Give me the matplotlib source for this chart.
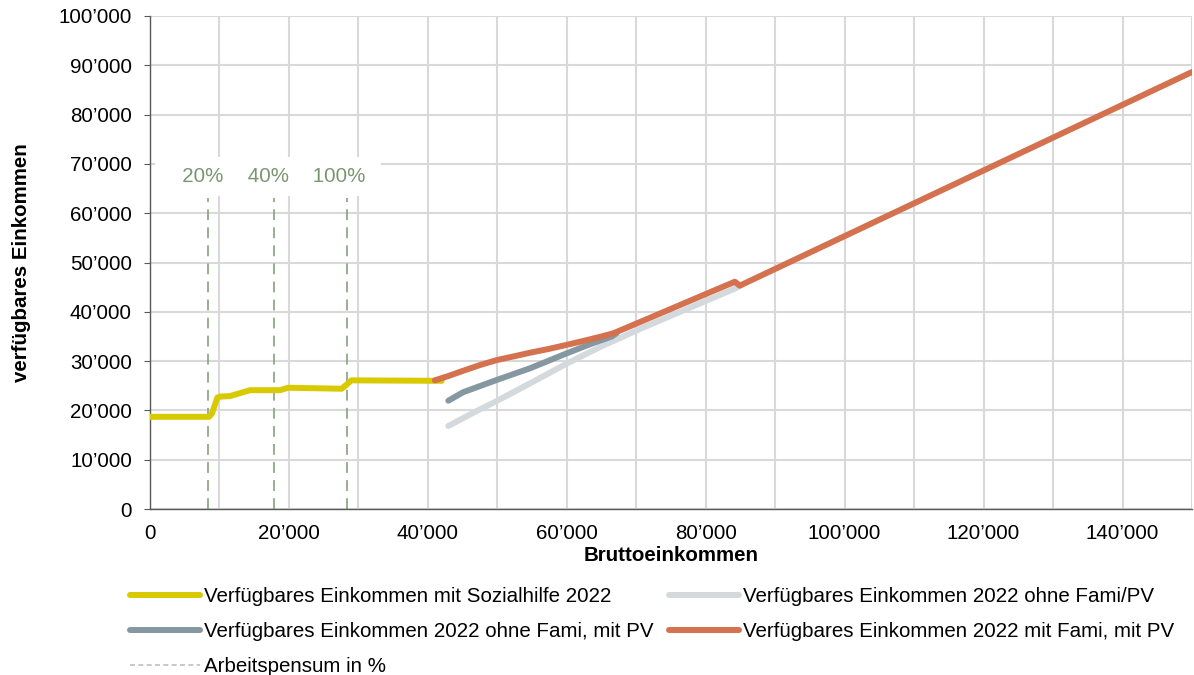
"""Verfuegbares Einkommen vs. Bruttoeinkommen"""

import matplotlib
matplotlib.use("Agg")
from matplotlib import pyplot as plt
from matplotlib.ticker import FuncFormatter, MultipleLocator

plt.rcParams["font.family"] = ["Liberation Sans", "DejaVu Sans"]

# --- data ------------------------------------------------------------------
sozialhilfe_x = [0, 8500, 8900, 9700, 10100, 11500, 14400, 18700, 19900, 27600, 28200, 29000, 42000]
sozialhilfe_y = [18700, 18700, 19300, 22600, 22800, 22900, 24100, 24100, 24600, 24400, 25100, 26100, 26000]

ohne_fami_pv_x = [42950, 46500, 49900, 55000, 60000, 65000, 67700, 70000, 75000, 80000, 84200, 85000]
ohne_fami_pv_y = [16840, 19500, 21900, 25700, 29500, 33000, 34700, 36200, 39200, 42200, 44700, 45300]

ohne_fami_mit_pv_x = [42950, 45100, 49900, 54700, 60000, 63300, 66500, 67200]
ohne_fami_mit_pv_y = [21970, 23700, 26170, 28540, 31580, 33400, 35000, 35700]

mit_fami_mit_pv_x = [41000, 43000, 45000, 47500, 49900, 52500, 54700, 57500, 60000, 63300,
                     65000, 66700, 70000, 75000, 80000, 84200, 84900, 150000]
mit_fami_mit_pv_y = [26100, 27000, 28000, 29200, 30200, 31000, 31700, 32500, 33300, 34400,
                     35000, 35640, 37600, 40600, 43600, 46100, 45300, 88640]

pensum_x = [8400, 17900, 28400]
pensum_labels = ["20%", "40%", "100%"]
pensum_label_x = [6800, 17000, 27200]
pensum_pad = [(3, 1), (1, 1), (1, 1)]  # spaces left/right inside the white label box
pensum_top = 63000
pensum_label_y = 67400

labels = [
    "Verfügbares Einkommen mit Sozialhilfe 2022",
    "Verfügbares Einkommen 2022 ohne Fami/PV",
    "Verfügbares Einkommen 2022 ohne Fami, mit PV",
    "Verfügbares Einkommen 2022 mit Fami, mit PV",
    "Arbeitspensum in %",
]
colors = ["#D9C900", "#D3D9DC", "#8597A1", "#D4714F"]

FS = 14.8

fig = plt.figure(figsize=(11.94, 6.75), dpi=100)
ax = fig.add_axes([0.1256, 0.2459, 0.8727, 0.7304])

ax.set_xlim(0, 150000)
ax.set_ylim(0, 100000)
ax.xaxis.set_major_locator(MultipleLocator(20000))
ax.xaxis.set_minor_locator(MultipleLocator(10000))
ax.yaxis.set_major_locator(MultipleLocator(10000))


def fmt(v, pos):
    v = int(round(v))
    if v == 0:
        return "0"
    return "%d\u2019000" % (v // 1000)


ax.xaxis.set_major_formatter(FuncFormatter(fmt))
ax.yaxis.set_major_formatter(FuncFormatter(fmt))

ax.grid(True, which="both", axis="x", color="#D9D9D9", lw=1.5, zorder=0)
ax.grid(True, which="major", axis="y", color="#D9D9D9", lw=1.5, zorder=0)
ax.set_axisbelow(True)

for s in ["top", "right"]:
    ax.spines[s].set_visible(False)
for s in ["left", "bottom"]:
    ax.spines[s].set_color("#595959")
    ax.spines[s].set_linewidth(1.0)

ax.tick_params(axis="y", which="major", length=4, color="#595959", labelsize=FS, pad=9)
ax.tick_params(axis="x", which="both", length=0, labelsize=FS, pad=11)

# Arbeitspensum markers
ax.vlines(pensum_x, 0, pensum_top, colors="#8FA888", lw=1.3,
          linestyles=(0, (6, 4)), zorder=2)
for px, lbl, (pl, pr) in zip(pensum_label_x, pensum_labels, pensum_pad):
    txt = " " * pl + lbl + " " * pr
    ax.text(px, pensum_label_y, txt, ha="center", va="center", fontsize=FS,
            color="#7B9571", zorder=3,
            bbox=dict(boxstyle="square,pad=0.5", facecolor="white", edgecolor="none"))

lw = 4.3
l1, = ax.plot(sozialhilfe_x, sozialhilfe_y, color=colors[0], lw=lw,
              solid_capstyle="round", zorder=4)
l2, = ax.plot(ohne_fami_pv_x, ohne_fami_pv_y, color=colors[1], lw=lw,
              solid_capstyle="round", zorder=5)
l3, = ax.plot(ohne_fami_mit_pv_x, ohne_fami_mit_pv_y, color=colors[2], lw=lw,
              solid_capstyle="round", zorder=6)
l4, = ax.plot(mit_fami_mit_pv_x, mit_fami_mit_pv_y, color=colors[3], lw=lw,
              solid_capstyle="round", zorder=7)
l5, = ax.plot([], [], color="#BFBFBF", lw=1.2, linestyle=(0, (3, 2)))

ax.set_xlabel("Bruttoeinkommen", fontsize=FS, fontweight="bold", labelpad=2)
ax.set_ylabel("verfügbares Einkommen", fontsize=FS, fontweight="bold", labelpad=20)

# column-wise fill: col 1 gets yellow, blue-gray, dashed
fig.legend([l1, l3, l5, l2, l4], [labels[0], labels[2], labels[4], labels[1], labels[3]],
           ncol=2, loc="upper left", bbox_to_anchor=(130 / 1194, 1 - 587 / 675),
           frameon=False, fontsize=FS, handlelength=3.4, handletextpad=0.2,
           labelspacing=0.78, columnspacing=0.75, borderpad=0, borderaxespad=0)

fig.savefig("out.png", dpi=100)
